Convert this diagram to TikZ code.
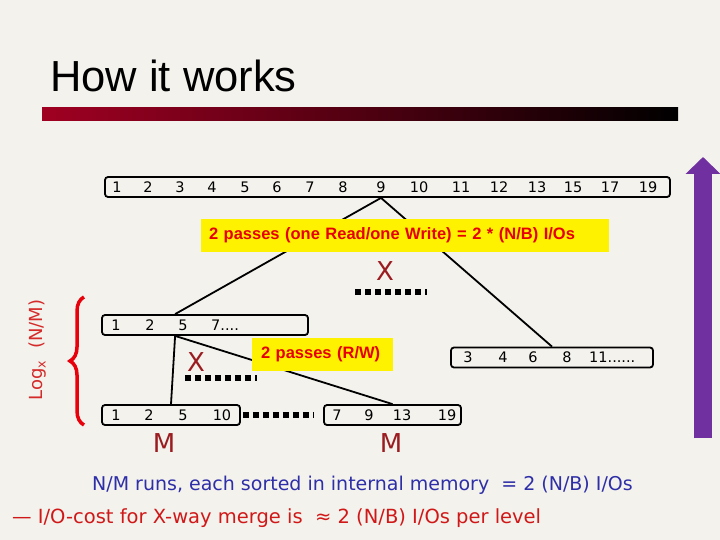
\documentclass[tikz,border=0pt]{standalone}
\usepackage{fontspec}
\setmainfont{DejaVu Sans}
\newfontfamily\headfont{Liberation Sans}
\usetikzlibrary{arrows.meta,decorations.pathreplacing,positioning}
\definecolor{slidebg}{HTML}{F3F2EC}
\definecolor{barred}{HTML}{A00022}
\definecolor{darkred}{HTML}{9B1C20}
\definecolor{notered}{HTML}{E60000}
\definecolor{bracered}{HTML}{E8000B}
\definecolor{logred}{HTML}{D42A2A}
\definecolor{costred}{HTML}{D01818}
\definecolor{noteblue}{HTML}{2E2EA8}
\definecolor{arrowviolet}{HTML}{7030A0}
\tikzset{
  run/.style={draw,line width=1.8pt,rounded corners=3pt,minimum height=20pt,inner sep=0pt},
  num/.style={font=\fontsize{14.5}{14.5}\selectfont,inner sep=0pt},
  pass/.style={fill=yellow,text=notered,font=\headfont\bfseries\fontsize{16.5}{16.5}\selectfont,
    inner xsep=8pt,inner ysep=0pt,minimum height=33pt,align=left},
  tag/.style={text=darkred,font=\fontsize{26}{26}\selectfont,inner sep=0pt},
  gap/.style={line width=6pt,dash pattern=on 6pt off 4pt},
  edge/.style={line width=1.8pt}
}
\begin{document}
\begin{tikzpicture}[x=1pt,y=-1pt]
\fill[slidebg](0,0)rectangle(720,540);
\useasboundingbox(0,0)rectangle(720,540);
% title
\node[anchor=base west,inner sep=0pt,font=\headfont\fontsize{43.5}{43.5}\selectfont](title) at (50,92){How it works};
\shade[left color=barred,middle color=barred!55!black,right color=black](42,108)rectangle(678,121);
% runs
\node[run,minimum width=565pt](top) at (387.5,187){};
\foreach \v/\x in {1/117,2/148,3/180,4/212,5/245,6/277,7/310,8/343,9/381,10/419,11/461,12/499,13/537,15/573,17/610,19/648}
  \node[num](t\v) at (\x,187){\v};
\node[run,minimum width=206pt](mid) at (205,325){};
\foreach \v/\x in {1/116,2/150,5/183}
  \node[num](m\v) at (\x,325){\v};
\node[num,anchor=west](m7) at (211,325){7....};
\node[run,minimum width=202pt](right) at (552,357.5){};
\foreach \v/\x in {3/468,4/503,6/533,8/567}
  \node[num](r\v) at (\x,357.5){\v};
\node[num,anchor=west](r11) at (589,357.5){11......};
\node[run,minimum width=138pt](bl) at (171,415){};
\foreach \v/\x in {1/116,2/149,5/183,10/222}
  \node[num](l\v) at (\x,415){\v};
\node[run,minimum width=137pt](br) at (392.5,415){};
\foreach \v/\x in {7/337,9/369,13/402,19/447}
  \node[num](s\v) at (\x,415){\v};
% merge tree
\draw[edge]([xshift=74pt]mid.north west)--(t9|-top.south)--(right.north);
\draw[edge](bl.north)--([xshift=74pt]mid.south west)--(br.north);
\node[pass,text width=392pt](p1) at (405,235.5){2 passes (one Read/one Write) = 2 * (N/B) I/Os};
\node[pass,text width=123pt,inner xsep=9pt](p2) at (322.5,354.5){2 passes (R/W)};
\node[tag](x1) at (385,271){X};
\node[tag](x2) at (196,362){X};
\coordinate (d1) at (355,292);
\coordinate (d2) at (185,378);
\draw[gap](d1)--++(72,0);
\draw[gap](d2)--++(72,0);
\draw[gap]([xshift=2pt]bl.east)--([xshift=-10pt]br.west);
\node[tag](mm1) at (164,443){M};
\node[tag](mm2) at (391,443){M};
% levels
\draw[bracered,line width=3.5pt,decorate,decoration={brace,amplitude=14pt}](84,425)--(84,297);
\node[rotate=90,text=logred,font=\fontsize{18}{18}\selectfont,inner sep=0pt](lg) at (38,350){Log\textsubscript{x}\ \ (N/M)};
\draw[arrowviolet,line width=18pt,-{Triangle[length=17pt,width=34pt]}](703,438)--(703,157);
% costs
\node[anchor=base west,inner sep=0pt,text=noteblue,font=\fontsize{19}{19}\selectfont](runs) at (92,490){N/M runs, each sorted in internal memory\ \ = 2 (N/B) I/Os};
\node[anchor=base west,inner sep=0pt,text=costred,font=\fontsize{19.5}{19.5}\selectfont](cost) at (12,523){— I/O-cost for X-way merge is\ \ ≈ 2 (N/B) I/Os per level};
\end{tikzpicture}
\end{document}
